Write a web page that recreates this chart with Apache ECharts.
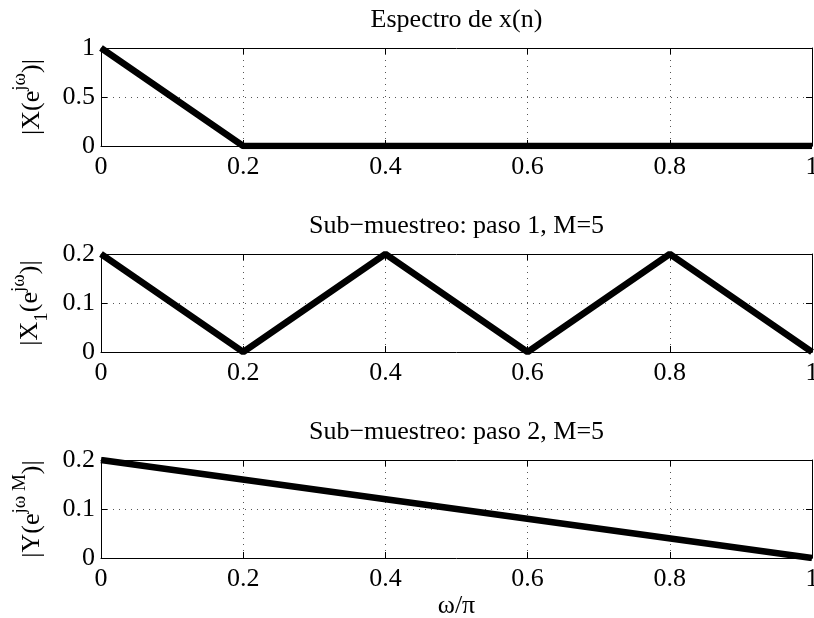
<!DOCTYPE html>
<html>
<head>
<meta charset="utf-8">
<script src="https://cdn.jsdelivr.net/npm/echarts@6/dist/echarts.min.js"></script>
<style>
  html, body { margin: 0; padding: 0; background: #fff; }
  #chart { width: 814px; height: 618px; }
</style>
</head>
<body>
<div id="chart"></div>
<script>
// Frequency axis (ω/π) ticks, shared by the three panels
const wTicks = [0, 0.2, 0.4, 0.6, 0.8, 1];
// Magnitude ticks
const magTicksTop = [0, 0.5, 1];
const magTicksSub = [0, 0.1, 0.2];

// Spectrum of x(n)
const espectroW = [0, 0.2, 1];
const espectroMag = [1, 0, 0];
// Down-sampling, step 1 (M = 5): shifted replicas
const paso1W = [0, 0.2, 0.4, 0.6, 0.8, 1];
const paso1Mag = [0.2, 0, 0.2, 0, 0.2, 0];
// Down-sampling, step 2 (M = 5): stretched spectrum
const paso2W = [0, 1];
const paso2Mag = [0.2, 0];

const titles = ['Espectro de x(n)', 'Sub\u2212muestreo: paso 1, M=5', 'Sub\u2212muestreo: paso 2, M=5'];
const yNames = [
  '{n||X(e}{sup|j\u03c9}{n|)|}',
  '{n||X}{sub|1}{n|(e}{sup|j\u03c9}{n|)|}',
  '{n||Y(e}{sup|j\u03c9 M}{n|)|}'
];
const xName = '\u03c9/\u03c0';

const FONT = 'Liberation Serif, Times New Roman, serif';
const gridTops = [48, 254, 460];
const gridH = 98;
const gridLeft = 101;
const gridRight = 2;

const panels = [
  { w: espectroW, mag: espectroMag, yt: magTicksTop },
  { w: paso1W, mag: paso1Mag, yt: magTicksSub },
  { w: paso2W, mag: paso2Mag, yt: magTicksSub }
];

const richName = {
  n: { fontFamily: FONT, fontSize: 26, color: '#000', lineHeight: 42 },
  sup: { fontFamily: FONT, fontSize: 19, color: '#000', lineHeight: 18, verticalAlign: 'top' },
  sub: { fontFamily: FONT, fontSize: 19, color: '#000', lineHeight: 18, verticalAlign: 'bottom' }
};

const grid = [], xAxis = [], yAxis = [], series = [], title = [];
const dotted = { color: '#555', width: 1, type: [1, 5] };
const tickIn = { show: true, inside: true, length: 6, lineStyle: { color: '#000', width: 1 } };
const axLine = { show: true, onZero: false, lineStyle: { color: '#000', width: 1 } };
const labelStyle = { fontFamily: FONT, fontSize: 26, color: '#000' };

panels.forEach((p, i) => {
  grid.push({ left: gridLeft, right: gridRight, top: gridTops[i], height: gridH, containLabel: false, outerBoundsMode: 'none' });
  const xMin = wTicks[0], xMax = wTicks[wTicks.length - 1], xInt = wTicks[1] - wTicks[0];
  const yMin = p.yt[0], yMax = p.yt[p.yt.length - 1], yInt = p.yt[1] - p.yt[0];
  // bottom axis with labels
  xAxis.push({
    type: 'value', gridIndex: i, position: 'bottom', min: xMin, max: xMax, interval: xInt,
    axisLine: axLine, axisTick: tickIn,
    axisLabel: Object.assign({ margin: 8, showMinLabel: true, showMaxLabel: true }, labelStyle),
    splitLine: { show: true, lineStyle: dotted },
    name: i === 2 ? xName : '', nameLocation: 'middle', nameGap: 34,
    nameTextStyle: labelStyle
  });
  // top edge of the box, ticks only
  xAxis.push({
    type: 'value', gridIndex: i, position: 'top', min: xMin, max: xMax, interval: xInt,
    axisLine: axLine, axisTick: tickIn, axisLabel: { show: false }, splitLine: { show: false }
  });
  yAxis.push({
    type: 'value', gridIndex: i, position: 'left', min: yMin, max: yMax, interval: yInt,
    axisLine: axLine, axisTick: tickIn,
    axisLabel: Object.assign({ margin: 6, showMinLabel: true, showMaxLabel: true }, labelStyle),
    splitLine: { show: true, lineStyle: dotted },
    name: yNames[i], nameLocation: 'middle', nameRotate: 90, nameGap: 48,
    nameTextStyle: { rich: richName }
  });
  // right edge of the box, ticks only
  yAxis.push({
    type: 'value', gridIndex: i, position: 'right', min: yMin, max: yMax, interval: yInt,
    axisLine: axLine, axisTick: tickIn, axisLabel: { show: false }, splitLine: { show: false }
  });
  series.push({
    type: 'line', xAxisIndex: 2 * i, yAxisIndex: 2 * i,
    data: p.w.map((w, k) => [w, p.mag[k]]),
    showSymbol: false, symbol: 'none', clip: true,
    lineStyle: { color: '#000', width: 6.5 }, z: 1
  });
  title.push({
    text: titles[i], left: gridLeft + (814 - gridLeft - gridRight) / 2, textAlign: 'center',
    top: gridTops[i] - 41, padding: 0,
    textStyle: { fontFamily: FONT, fontSize: 26, fontWeight: 'normal', color: '#000' }
  });
});

const chart = echarts.init(document.getElementById('chart'), null, { renderer: 'canvas' });
chart.setOption({
  animation: false,
  backgroundColor: '#fff',
  title, grid, xAxis, yAxis, series
});
</script>
</body>
</html>
